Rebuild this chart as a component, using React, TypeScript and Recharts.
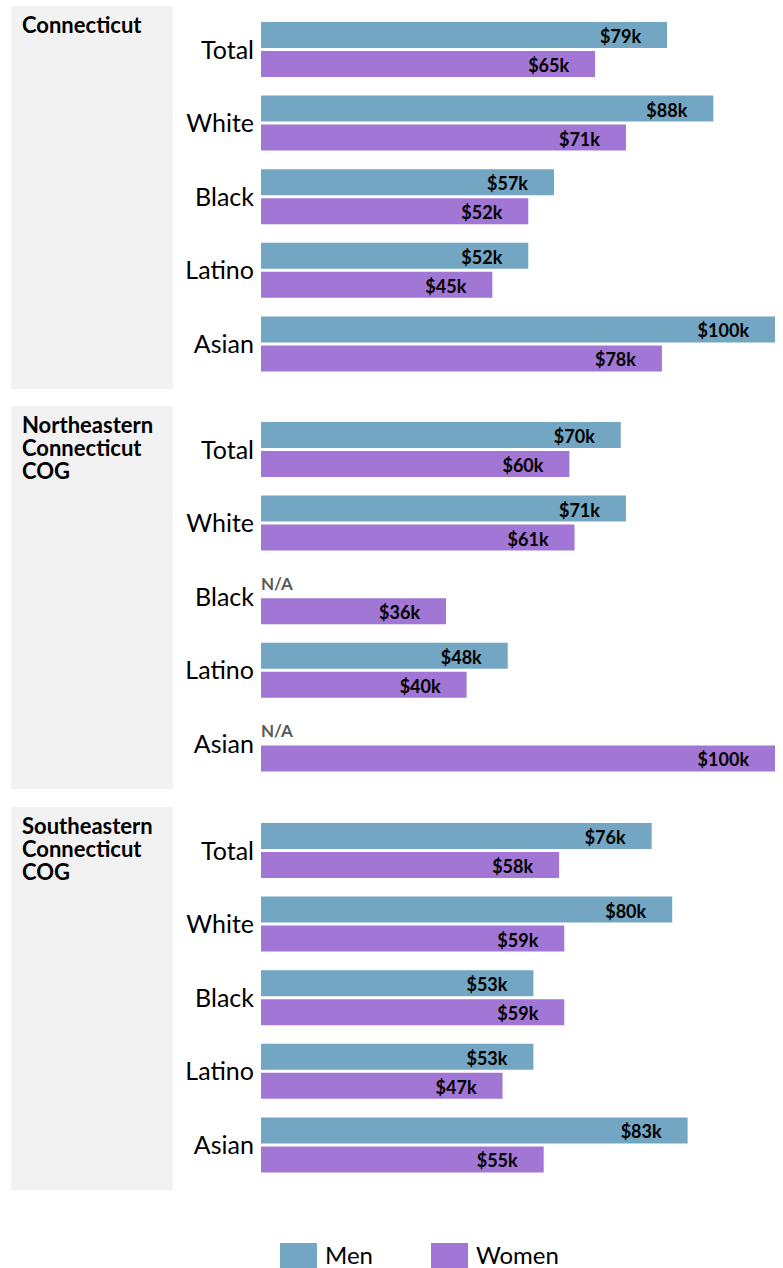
import React from 'react';
import { BarChart, Bar, XAxis, YAxis, LabelList } from 'recharts';

const categories = ['Total', 'White', 'Black', 'Latino', 'Asian'];
const regionLabels = [
  ['Connecticut'],
  ['Northeastern', 'Connecticut', 'COG'],
  ['Southeastern', 'Connecticut', 'COG'],
];
// median earnings in $k, null = not available
const ctMen = [79, 88, 57, 52, 100];
const ctWomen = [65, 71, 52, 45, 78];
const neMen = [70, 71, null, 48, null];
const neWomen = [60, 61, 36, 40, 100];
const seMen = [76, 80, 53, 53, 83];
const seWomen = [58, 59, 59, 47, 55];

const menSeries = [ctMen, neMen, seMen];
const womenSeries = [ctWomen, neWomen, seWomen];

const MEN = '#73a6c2';
const WOMEN = '#a176d4';
const FONT = 'Lato, "Noto Sans", sans-serif';
const panelTops = [6, 406, 807];

const valueText = (x: number, y: number, value: any) => (
  <text x={x} y={y} textAnchor="end" dominantBaseline="central" fontSize={18} fontWeight={700} fill="#000" fontFamily={FONT}>
    ${value}k
  </text>
);

function Panel({ idx }: { idx: number }) {
  const men = menSeries[idx];
  const women = womenSeries[idx];
  const data = categories.map((cat, i) => ({
    cat,
    men: men[i] === null ? 0 : men[i],
    women: women[i],
  }));
  const top = panelTops[idx];

  const menLabel = (props: any) => {
    const { x, y, width, height, value } = props;
    if (!value) return null;
    return valueText(x + width - 26, y + height / 2 + 1, value);
  };

  // women label also carries the N/A marker for a missing men value
  const womenLabel = (props: any) => {
    const { x, y, width, height, value, index } = props;
    return (
      <g>
        {valueText(x + width - 26, y + height / 2 + 1, value)}
        {men[index] === null && (
          <text x={x} y={y - 15} dominantBaseline="central" fontSize={17} fontWeight={700} fill="#595959" fontFamily={FONT}>
            N/A
          </text>
        )}
      </g>
    );
  };

  return (
    <div style={{ position: 'absolute', left: 0, top, width: 783, height: 383 }}>
      <div style={{ position: 'absolute', left: 11, top: 0, width: 162, height: 383, background: '#f2f2f2' }} />
      <div style={{ position: 'absolute', left: 22, top: 7, fontFamily: FONT, fontWeight: 700, fontSize: 22, lineHeight: '23px', color: '#000' }}>
        {regionLabels[idx].map((l) => (
          <div key={l}>{l}</div>
        ))}
      </div>
      <div style={{ position: 'absolute', left: 0, top: 0 }}>
        <BarChart
          width={783}
          height={383}
          data={data}
          layout="vertical"
          margin={{ top: 7, right: 8, bottom: 8, left: 0 }}
          barSize={26}
          barGap={3}
        >
          <XAxis type="number" domain={[0, 100]} hide />
          <YAxis
            type="category"
            dataKey="cat"
            width={261}
            axisLine={false}
            tickLine={false}
            tickMargin={1}
            tick={{ fontSize: 25, fill: '#000', fontFamily: FONT }}
          />
          <Bar dataKey="men" fill={MEN} isAnimationActive={false}>
            <LabelList dataKey="men" content={menLabel} />
          </Bar>
          <Bar dataKey="women" fill={WOMEN} isAnimationActive={false}>
            <LabelList dataKey="women" content={womenLabel} />
          </Bar>
        </BarChart>
      </div>
    </div>
  );
}

export default function App() {
  return (
    <div style={{ position: 'absolute', left: 0, top: 0, width: 783, height: 1268, background: '#fff', overflow: 'hidden' }}>
      {[0, 1, 2].map((i) => (
        <Panel key={i} idx={i} />
      ))}
      <div style={{ position: 'absolute', left: 280, top: 1243, width: 37, height: 25, background: MEN }} />
      <div style={{ position: 'absolute', left: 325, top: 1240, fontFamily: FONT, fontSize: 24, lineHeight: '30px' }}>Men</div>
      <div style={{ position: 'absolute', left: 431, top: 1243, width: 37, height: 25, background: WOMEN }} />
      <div style={{ position: 'absolute', left: 476, top: 1240, fontFamily: FONT, fontSize: 24, lineHeight: '30px' }}>Women</div>
    </div>
  );
}
